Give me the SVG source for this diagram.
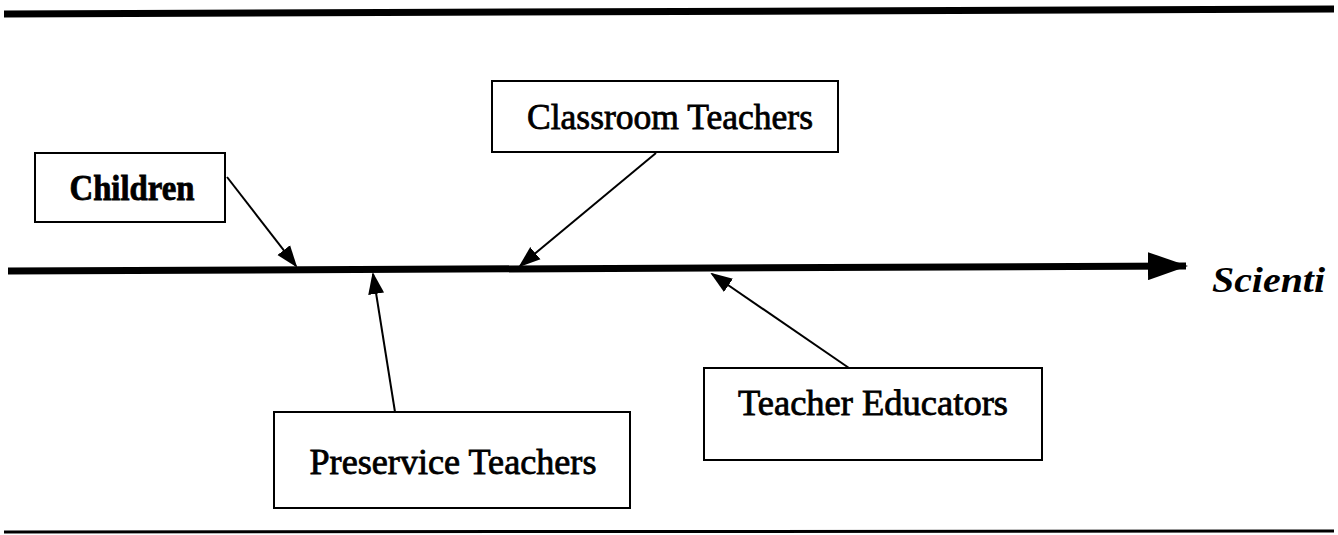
<svg xmlns="http://www.w3.org/2000/svg" width="1338" height="535" viewBox="0 0 1338 535">
  <style>
    .box { fill: #ffffff; stroke: #000000; stroke-width: 2; }
    .label { font-family: "Liberation Serif", "Times New Roman", serif; font-size: 36px; fill: #000000; text-anchor: middle; stroke: #000000; stroke-width: 0.8; }
    .rule { stroke: #000000; fill: none; }
    .link { stroke: #000000; stroke-width: 2; fill: none; marker-end: url(#head); }
  </style>
  <defs>
    <marker id="head" markerUnits="userSpaceOnUse" markerWidth="22" markerHeight="18" viewBox="0 0 22 18" refX="20" refY="9" orient="auto">
      <path d="M0,1 L22,9 L0,17 Z" fill="#000000"/>
    </marker>
    <marker id="axisHead" markerUnits="userSpaceOnUse" markerWidth="40" markerHeight="28" viewBox="0 0 40 28" refX="38" refY="14" orient="auto">
      <path d="M0,0 L40,14 L0,28 Z" fill="#000000"/>
    </marker>
  </defs>

  <!-- page rules -->
  <line class="rule" x1="4" y1="14" x2="1334" y2="9" stroke-width="7"/>
  <line class="rule" x1="4" y1="532" x2="1334" y2="531" stroke-width="3"/>

  <!-- main axis -->
  <g id="axis">
    <line class="rule" x1="8" y1="271" x2="1186" y2="266" stroke-width="7" marker-end="url(#axisHead)"/>
    <text x="1212" y="292" font-family="Liberation Serif, serif" font-size="35" font-style="italic" font-weight="bold" fill="#000000" textLength="113" lengthAdjust="spacingAndGlyphs">Scienti</text>
  </g>

  <!-- connectors -->
  <g id="connectors">
    <line class="link" x1="227" y1="177" x2="296" y2="266"/>
    <line class="link" x1="656" y1="153" x2="520" y2="266"/>
    <line class="link" x1="395" y1="412" x2="373" y2="274"/>
    <line class="link" x1="849" y1="368" x2="712" y2="274"/>
  </g>

  <g id="children">
    <rect class="box" x="35" y="153" width="190" height="69"/>
    <text class="label" x="132" y="200" font-weight="bold" textLength="125" lengthAdjust="spacingAndGlyphs">Children</text>
  </g>

  <g id="classroom-teachers">
    <rect class="box" x="492" y="81" width="346" height="71"/>
    <text class="label" x="670" y="129" textLength="286" lengthAdjust="spacingAndGlyphs">Classroom Teachers</text>
  </g>

  <g id="preservice-teachers">
    <rect class="box" x="274" y="412" width="356" height="96"/>
    <text class="label" x="453" y="474" textLength="287" lengthAdjust="spacingAndGlyphs">Preservice Teachers</text>
  </g>

  <g id="teacher-educators">
    <rect class="box" x="704" y="368" width="338" height="92"/>
    <text class="label" x="873" y="415" textLength="270" lengthAdjust="spacingAndGlyphs">Teacher Educators</text>
  </g>
</svg>
